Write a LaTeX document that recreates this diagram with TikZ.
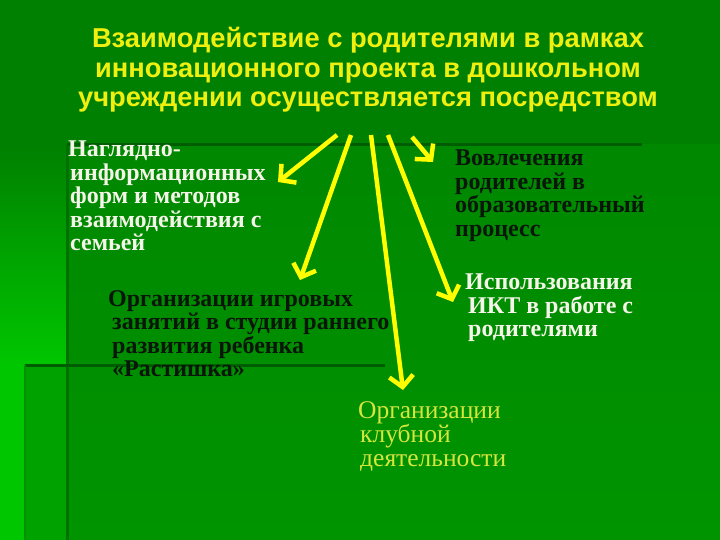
\documentclass[tikz,border=0pt]{standalone}
\usepackage{fontspec}
\setmainfont{Liberation Serif}
\newfontfamily\titlefont{Liberation Sans}
\usetikzlibrary{arrows.meta}
\definecolor{topgreen}{RGB}{0,128,0}
\definecolor{bodytop}{RGB}{0,136,0}
\definecolor{bodybot}{RGB}{0,148,0}
\definecolor{stripbright}{RGB}{0,198,0}
\definecolor{stripmid}{RGB}{0,162,0}
\definecolor{darkline}{RGB}{0,92,0}
\definecolor{midline}{RGB}{0,112,0}
\definecolor{lightline}{RGB}{0,145,0}
\definecolor{titleyellow}{RGB}{240,240,16}
\definecolor{arrowyellow}{RGB}{255,255,0}
\definecolor{whitetext}{RGB}{244,244,232}
\definecolor{blacktext}{RGB}{10,22,10}
\definecolor{clubtext}{RGB}{214,230,60}
\tikzset{
  titletext/.style={font=\titlefont\bfseries\fontsize{27.3}{29.5}\selectfont, text=titleyellow, align=center, inner sep=0pt},
  bodytext/.style={font=\bfseries\fontsize{24}{23.5}\selectfont, align=left, inner sep=0pt, anchor=north west},
  clubstyle/.style={font=\fontsize{25.5}{23.5}\selectfont, align=left, inner sep=0pt, anchor=north west, text=clubtext},
  yarrow/.style={draw=arrowyellow, line width=4.5pt, -{Straight Barb[length=11pt,width=24pt]}}
}
\begin{document}
\begin{tikzpicture}[x=1pt,y=-1pt]
\useasboundingbox (0,0) rectangle (720,540);
% background
\fill[topgreen] (0,0) rectangle (720,540);
\shade[top color=bodytop, bottom color=bodybot] (67,145) rectangle (720,540);
\shade[top color=topgreen, bottom color=stripbright] (0,145) rectangle (67,365);
\fill[stripbright] (0,365) rectangle (25,540);
\fill[stripmid] (25,365) rectangle (67,540);
\draw[darkline, line width=3pt] (67,145) -- (642,145);
\draw[midline, line width=3pt] (67,145) -- (67,540);
\draw[darkline, line width=3pt] (25,365) -- (385,365);
\draw[lightline, line width=2.5pt] (25,365) -- (25,540);
% title
\node[titletext] (title) at (368,70) {Взаимодействие с родителями в рамках\\инновационного проекта в дошкольном\\учреждении осуществляется посредством};
% text blocks
\node[bodytext, text=whitetext] (n1) at (68,141) {Наглядно-\\\hspace*{2pt}информационных\\\hspace*{2pt}форм и методов\\\hspace*{2pt}взаимодействия с\\\hspace*{2pt}семьей};
\node[bodytext, text=blacktext] (n2) at (455,150) {Вовлечения\\родителей в\\образовательный\\процесс};
\node[bodytext, text=blacktext] (n3) at (108,290) {Организации игровых\\\hspace*{4pt}занятий в студии раннего\\\hspace*{4pt}развития ребенка\\\hspace*{4pt}«Растишка»};
\node[bodytext, text=whitetext] (n4) at (465,274) {Использования\\\hspace*{3pt}ИКТ в работе с\\\hspace*{3pt}родителями};
\node[clubstyle] (n5) at (358,401) {Организации\\\hspace*{2pt}клубной\\\hspace*{2pt}деятельности};
% arrows
\coordinate (s1) at (337,135); \coordinate (e1) at (278,182);
\coordinate (s2) at (351,135); \coordinate (e2) at (300,280);
\coordinate (s3) at (371,135); \coordinate (e3) at (403,390);
\coordinate (s4) at (388,135); \coordinate (e4) at (453,302);
\coordinate (s5) at (412,137); \coordinate (e5) at (433,162);
\draw[yarrow] (s1) -- (e1);
\draw[yarrow] (s2) -- (e2);
\draw[yarrow] (s3) -- (e3);
\draw[yarrow] (s4) -- (e4);
\draw[yarrow] (s5) -- (e5);
\end{tikzpicture}
\end{document}
